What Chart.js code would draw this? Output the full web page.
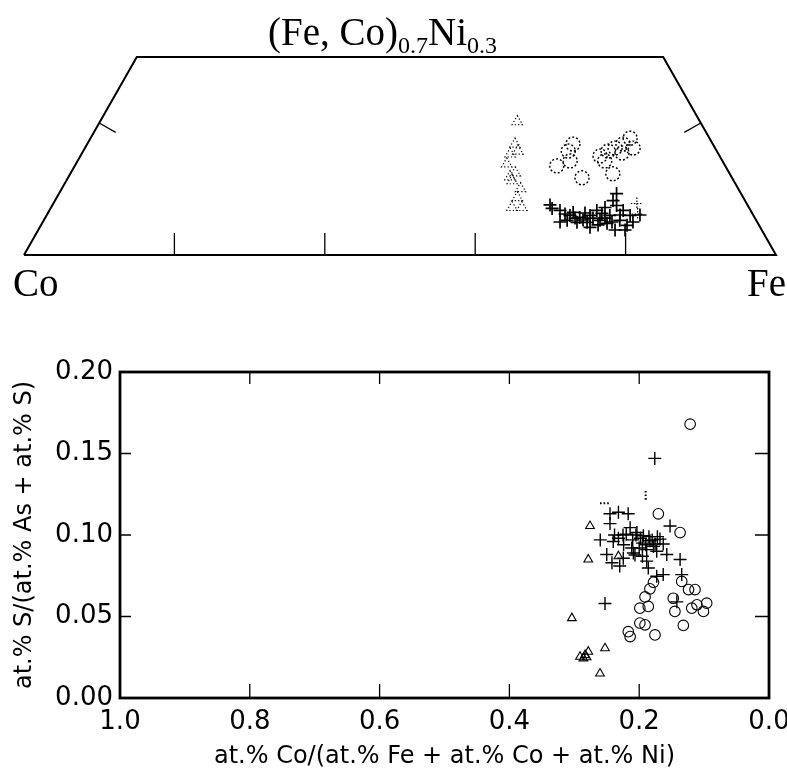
<!DOCTYPE html>
<html>
<head>
<meta charset="utf-8">
<script src="https://cdn.jsdelivr.net/npm/chart.js"></script>
<style>
  html, body { margin: 0; padding: 0; background: #fff; }
  #wrap { position: relative; width: 787px; height: 773px; }
  #top { position: absolute; left: 0; top: 0; width: 787px; height: 300px; }
  #bottom { position: absolute; left: 0; top: 300px; width: 787px; height: 473px; }
</style>
</head>
<body>
<div id="wrap">
  <div id="top"><canvas id="ternary"></canvas></div>
  <div id="bottom"><canvas id="scatter"></canvas></div>
</div>
<script>
// --- ternary section Co - Fe - (Fe,Co)0.7Ni0.3, compositions as fractions of Fe and Ni
const ternTriFe = [0.555, 0.569, 0.570, 0.578, 0.573, 0.591, 0.593, 0.610, 0.6125, 0.626, 0.613, 0.587]
const ternTriNi = [0.202, 0.168, 0.153, 0.1575, 0.138, 0.1245, 0.1125, 0.1005, 0.087, 0.072, 0.072, 0.1185]

const ternCircFe = [0.641, 0.645, 0.646, 0.655, 0.6835, 0.691, 0.698, 0.705, 0.718, 0.7175, 0.729, 0.7125, 0.7215, 0.701]
const ternCircNi = [0.135, 0.1575, 0.168, 0.1425, 0.117, 0.150, 0.1575, 0.162, 0.1545, 0.177, 0.162, 0.168, 0.123, 0.1425]

const ternCrossFe = [0.667, 0.679, 0.696, 0.7105, 0.7227, 0.728, 0.7366, 0.742, 0.7505, 0.763, 0.776,
  0.7106, 0.724, 0.7397, 0.7513, 0.766, 0.7794, 0.7317, 0.696, 0.749, 0.737, 0.698, 0.7415,
  0.7047, 0.7169, 0.7286, 0.7142, 0.7406, 0.7446, 0.7569, 0.7623, 0.7848, 0.7888, 0.6884, 0.6878,
  0.767, 0.7803, 0.6616]
const ternCrossNi = [0.0705, 0.0675, 0.060, 0.057, 0.060, 0.0675, 0.072, 0.0825, 0.075, 0.0675, 0.060,
  0.0495, 0.0495, 0.0525, 0.048, 0.0525, 0.045, 0.042, 0.0525, 0.060, 0.063, 0.0645, 0.093,
  0.056, 0.053, 0.056, 0.0636, 0.0455, 0.056, 0.050, 0.0606, 0.050, 0.0606, 0.0621, 0.050,
  0.0379, 0.0379, 0.0758]

const ternFaintFe = [0.776, 0.785]
const ternFaintNi = [0.078, 0.062]

const ternBaseTicks = [0.2, 0.4, 0.6, 0.8]   // Fe fraction on the Co-Fe edge
const ternSideTicks = [0.2]                  // Ni fraction on both slanted edges
const NI_MAX = 0.3

// --- S/(As+S) against Co/(Fe+Co+Ni)
const crossCo = [0.176, 0.245, 0.232, 0.217, 0.245, 0.1525, 0.214, 0.2035, 0.1935, 0.232, 0.224, 0.1835,
  0.1755, 0.168, 0.163, 0.260, 0.250, 0.242, 0.230, 0.209, 0.1885, 0.2115, 0.1885, 0.173, 0.1575, 0.137,
  0.186, 0.163, 0.173, 0.1345, 0.142, 0.2527, 0.198, 0.190, 0.180, 0.172, 0.205, 0.195, 0.220, 0.238,
  0.2245, 0.2065, 0.185, 0.178, 0.195, 0.200, 0.210, 0.225, 0.240]
const crossS = [0.147, 0.113, 0.114, 0.113, 0.107, 0.1055, 0.1045, 0.1015, 0.0995, 0.098, 0.094, 0.0965,
  0.0945, 0.0975, 0.0945, 0.097, 0.088, 0.083, 0.081, 0.089, 0.084, 0.092, 0.091, 0.090, 0.088, 0.085,
  0.0798, 0.0757, 0.0747, 0.0757, 0.059, 0.058, 0.098, 0.094, 0.097, 0.099, 0.100, 0.087, 0.1005, 0.100,
  0.0857, 0.0877, 0.099, 0.093, 0.095, 0.092, 0.097, 0.100, 0.096]

const circCo = [0.1215, 0.1705, 0.137, 0.1345, 0.124, 0.114, 0.1835, 0.191, 0.199, 0.186, 0.1475, 0.145,
  0.111, 0.096, 0.101, 0.119, 0.132, 0.199, 0.191, 0.2168, 0.214, 0.1757, 0.178]
const circS = [0.168, 0.113, 0.1015, 0.0715, 0.0665, 0.0665, 0.067, 0.062, 0.0551, 0.0562, 0.0612, 0.0531,
  0.0572, 0.0582, 0.0531, 0.0551, 0.0445, 0.046, 0.0449, 0.0407, 0.0377, 0.0387, 0.071]

const triCo = [0.2758, 0.2785, 0.232, 0.3037, 0.2527, 0.2912, 0.2835, 0.2784, 0.286, 0.281, 0.2604]
const triS = [0.1055, 0.085, 0.087, 0.049, 0.0305, 0.0253, 0.0263, 0.0284, 0.0243, 0.025, 0.015]

const faintCo = [0.190, 0.2527]
const faintS = [0.124, 0.1195]

const xTickValues = [1.0, 0.8, 0.6, 0.4, 0.2, 0.0]
const yTickValues = [0.00, 0.05, 0.10, 0.15, 0.20]

const SQ3 = Math.sqrt(3) / 2
const tern = (fe, ni) => ({ x: fe + ni / 2, y: ni * SQ3 })
const ternPts = (fe, ni) => fe.map((f, i) => tern(f, ni[i]))
const pts = (xs, ys) => xs.map((v, i) => ({ x: v, y: ys[i] }))

// marker outlines drawn with a dash pattern when a dataset asks for it
const dashedMarkers = {
  id: 'dashedMarkers',
  beforeDatasetDraw(chart, args) {
    const dash = chart.data.datasets[args.index].markerDash
    if (dash) { chart.ctx.save(); chart.ctx.setLineDash(dash) }
  },
  afterDatasetDraw(chart, args) {
    if (chart.data.datasets[args.index].markerDash) chart.ctx.restore()
  }
}

const ternaryDecor = {
  id: 'ternaryDecor',
  afterDraw(chart) {
    const { ctx, chartArea, scales: { x, y } } = chart
    const px = p => [x.getPixelForValue(p.x), y.getPixelForValue(p.y)]
    const seg = (x1, y1, x2, y2) => { ctx.beginPath(); ctx.moveTo(x1, y1); ctx.lineTo(x2, y2); ctx.stroke() }
    ctx.save()
    ctx.strokeStyle = '#000'
    ctx.lineWidth = 1.3
    ternBaseTicks.forEach(fe => {
      const [tx, ty] = px(tern(fe, 0))
      seg(tx, ty, tx, ty - 22)
    })
    const cx = (chartArea.left + chartArea.right) / 2
    const sideTick = (a, b, at) => {
      const [ax, ay] = px(a), [bx, by] = px(b), [tx, ty] = px(at)
      const l = Math.hypot(bx - ax, by - ay)
      let nx = -(by - ay) / l, ny = (bx - ax) / l
      if ((cx - tx) * nx < 0) { nx = -nx; ny = -ny }
      seg(tx, ty, tx + nx * 19, ty + ny * 19)
    }
    ternSideTicks.forEach(ni => {
      sideTick(tern(0, 0), tern(0, NI_MAX), tern(0, ni))
      sideTick(tern(1, 0), tern(1 - NI_MAX, NI_MAX), tern(1 - ni, ni))
    })

    ctx.fillStyle = '#000'
    ctx.textBaseline = 'alphabetic'
    const big = '39px "Liberation Serif"', small = '24px "Liberation Serif"'
    let tx = 268
    ;[['(Fe, Co)', big, 45], ['0.7', small, 53], ['Ni', big, 45], ['0.3', small, 53]].forEach(([t, f, by]) => {
      ctx.font = f
      ctx.fillText(t, tx, by)
      tx += ctx.measureText(t).width
    })
    ctx.font = big
    ctx.textAlign = 'left'
    ctx.fillText('Co', 13, 296)
    ctx.textAlign = 'right'
    ctx.fillText('Fe', 786, 296)
    ctx.restore()
  }
}

const frameCorners = [tern(0, 0), tern(1, 0), tern(1 - NI_MAX, NI_MAX), tern(0, NI_MAX), tern(0, 0)]

new Chart(document.getElementById('ternary'), {
  type: 'scatter',
  data: {
    datasets: [
      { data: frameCorners, showLine: true, borderColor: '#000', borderWidth: 2, pointRadius: 0, clip: false },
      { data: ternPts(ternTriFe, ternTriNi), pointStyle: 'triangle', pointRadius: 6, borderWidth: 1.2,
        borderColor: '#000', backgroundColor: 'rgba(0,0,0,0)', markerDash: [1.2, 2.2], clip: false },
      { data: ternPts(ternCircFe, ternCircNi), pointStyle: 'circle', pointRadius: 7, borderWidth: 1.4,
        borderColor: '#000', backgroundColor: 'rgba(0,0,0,0)', markerDash: [2, 2], clip: false },
      { data: ternPts(ternFaintFe, ternFaintNi), pointStyle: 'cross', pointRadius: 6, borderWidth: 1.2,
        borderColor: '#000', markerDash: [1.5, 1.5], clip: false },
      { data: ternPts(ternCrossFe, ternCrossNi), pointStyle: 'cross', pointRadius: 6.5, borderWidth: 1.7,
        borderColor: '#000', clip: false }
    ]
  },
  options: {
    responsive: true,
    maintainAspectRatio: false,
    animation: false,
    layout: { padding: { left: 24, right: 11, top: 57, bottom: 45 } },
    plugins: { legend: { display: false }, tooltip: { enabled: false } },
    scales: {
      x: { type: 'linear', min: 0, max: 1, display: false },
      y: { type: 'linear', min: 0, max: NI_MAX * SQ3, display: false }
    }
  },
  plugins: [dashedMarkers, ternaryDecor]
})

// box round the plot area with short ticks pointing inwards
const plotFrame = {
  id: 'plotFrame',
  afterDraw(chart) {
    const { ctx, chartArea: a, scales: { x, y } } = chart
    ctx.save()
    ctx.strokeStyle = '#000'
    ctx.lineWidth = 1.3
    ctx.beginPath()
    xTickValues.filter(v => v > 0 && v < 1).forEach(v => {
      const p = x.getPixelForValue(v)
      ctx.moveTo(p, a.bottom); ctx.lineTo(p, a.bottom - 14)
      ctx.moveTo(p, a.top); ctx.lineTo(p, a.top + 12)
    })
    yTickValues.filter(v => v > 0 && v < 0.2).forEach(v => {
      const p = y.getPixelForValue(v)
      ctx.moveTo(a.left, p); ctx.lineTo(a.left + 11, p)
      ctx.moveTo(a.right, p); ctx.lineTo(a.right - 14, p)
    })
    ctx.stroke()
    ctx.lineWidth = 2.8
    ctx.strokeRect(a.left, a.top, a.right - a.left, a.bottom - a.top)
    ctx.restore()
  }
}

const tickFont = { family: 'DejaVu Sans', size: 26, lineHeight: 1.2 }
const titleFont = { family: 'DejaVu Sans', size: 24, lineHeight: 1.2 }

new Chart(document.getElementById('scatter'), {
  type: 'scatter',
  data: {
    datasets: [
      { data: pts(triCo, triS), pointStyle: 'triangle', pointRadius: 5, borderWidth: 1.1,
        borderColor: '#000', backgroundColor: 'rgba(0,0,0,0)', clip: false },
      { data: pts(circCo, circS), pointStyle: 'circle', pointRadius: 5.3, borderWidth: 1.1,
        borderColor: '#000', backgroundColor: 'rgba(0,0,0,0)', clip: false },
      { data: pts(faintCo, faintS), pointStyle: 'line', pointRotation: [90, 0], pointRadius: 5, borderWidth: 2,
        borderColor: '#000', markerDash: [1.6, 2], clip: false },
      { data: pts(crossCo, crossS), pointStyle: 'cross', pointRadius: 6.5, borderWidth: 1.4,
        borderColor: '#000', clip: false }
    ]
  },
  options: {
    responsive: true,
    maintainAspectRatio: false,
    animation: false,
    layout: { padding: { left: 0, right: 18, top: 72, bottom: 0 } },
    plugins: { legend: { display: false }, tooltip: { enabled: false } },
    scales: {
      x: {
        type: 'linear', reverse: true, min: 0, max: 1,
        afterBuildTicks: s => { s.ticks = xTickValues.map(v => ({ value: v })) },
        // fixed band under the plot; the end labels are allowed to run past the box
        afterFit: s => { s.height = 75; s.paddingLeft = 0; s.paddingRight = 0 },
        ticks: { color: '#000', font: tickFont, padding: 9, maxRotation: 0, autoSkip: false,
          callback: v => v.toFixed(1) },
        grid: { display: false, drawTicks: false },
        border: { display: false },
        title: { display: true, text: 'at.% Co/(at.% Fe + at.% Co + at.% Ni)', color: '#000',
          font: titleFont, padding: { top: 4, bottom: 2 } }
      },
      y: {
        type: 'linear', min: 0, max: 0.2,
        afterBuildTicks: s => { s.ticks = yTickValues.map(v => ({ value: v })) },
        afterFit: s => { s.width = 120 },
        ticks: { color: '#000', font: tickFont, padding: 7, autoSkip: false,
          callback: v => v.toFixed(2) },
        grid: { display: false, drawTicks: false },
        border: { display: false },
        title: { display: true, text: 'at.% S/(at.% As + at.% S)', color: '#000',
          font: titleFont, padding: { top: 10, bottom: 15 } }
      }
    }
  },
  plugins: [dashedMarkers, plotFrame]
})
</script>
</body>
</html>
